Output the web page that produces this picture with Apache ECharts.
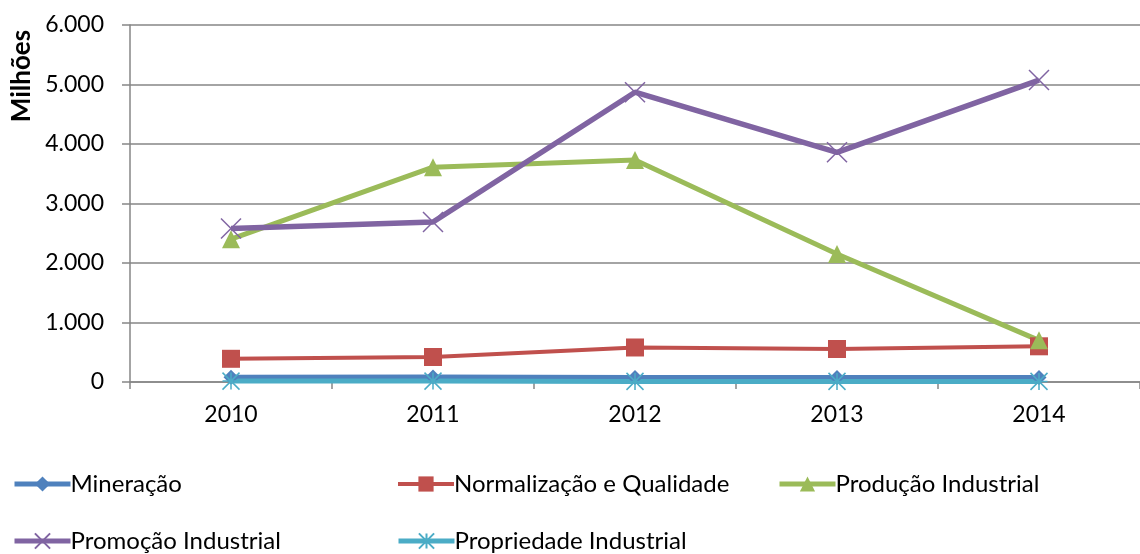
<!DOCTYPE html>
<html>
<head>
<meta charset="utf-8">
<script src="https://cdn.jsdelivr.net/npm/echarts@6/dist/echarts.min.js"></script>
<style>
  html, body { margin: 0; padding: 0; background: #fff; }
  #chart { width: 1140px; height: 554px; }
</style>
</head>
<body>
<div id="chart"></div>
<script>
var years = ["2010", "2011", "2012", "2013", "2014"];
var mineracao = [80, 85, 75, 75, 75];
var normalizacao = [390, 420, 580, 555, 600];
var producao = [2400, 3610, 3730, 2150, 700];
var promocao = [2580, 2690, 4870, 3860, 5075];
var propriedade = [15, 15, 10, 10, 10];

var FONT = "Lato";
var GRID = "#868686";

var crossPath = "path://M0,0L10,10M10,0L0,10";
var starPath = "path://M5,0L5,10M0,0L10,10M10,0L0,10M0,5L10,5";

function fmt(v) {
  return String(v).replace(/\B(?=(\d{3})+(?!\d))/g, ".");
}

function line(name, data, color, symbol, size, width, stroke) {
  return {
    name: name,
    type: "line",
    data: data,
    symbol: symbol,
    symbolSize: size,
    showAllSymbol: true,
    lineStyle: { color: color, width: width },
    itemStyle: {
      color: color,
      borderColor: color,
      borderWidth: stroke || 0
    },
    emphasis: { disabled: true },
    z: 2
  };
}

function legend(name, left, top, w) {
  return {
    data: [name],
    left: left,
    top: top,
    padding: 0,
    itemWidth: 56,
    itemHeight: 19,
    itemGap: 0,
    selectedMode: false,
    lineStyle: { width: w },
    textStyle: { fontFamily: FONT, fontSize: 24, color: "#000", padding: [0, 0, 0, -5] }
  };
}

var chart = echarts.init(document.getElementById("chart"));
chart.setOption({
  animation: false,
  backgroundColor: "#fff",
  grid: { left: 130, top: 25, width: 1020, height: 357 },
  graphic: [{
    type: "text",
    x: 22,
    y: 76,
    rotation: Math.PI / 2,
    style: {
      text: "Milhões",
      fontFamily: FONT,
      fontWeight: "bold",
      fontSize: 26,
      fill: "#000",
      align: "center",
      verticalAlign: "middle"
    }
  }],
  legend: [
    legend("Mineração", 12, 472, 5),
    legend("Normalização e Qualidade", 396, 472, 4),
    legend("Produção Industrial", 777, 472, 5),
    legend("Promoção Industrial", 12, 529, 5),
    legend("Propriedade Industrial", 396, 529, 5)
  ],
  xAxis: {
    type: "category",
    data: years,
    boundaryGap: true,
    axisLine: { show: true, lineStyle: { color: GRID, width: 1.5 } },
    axisTick: { show: true, length: 7, lineStyle: { color: GRID, width: 1.5 } },
    axisLabel: { fontFamily: FONT, fontSize: 23, color: "#000", margin: 21 },
    splitLine: { show: false }
  },
  yAxis: {
    type: "value",
    min: 0,
    max: 6000,
    interval: 1000,
    axisLine: { show: true, lineStyle: { color: GRID, width: 1.5 } },
    axisTick: { show: true, length: 8, lineStyle: { color: GRID, width: 1.5 } },
    axisLabel: { fontFamily: FONT, fontSize: 23, color: "#000", margin: 26, formatter: fmt },
    splitLine: { show: true, lineStyle: { color: GRID, width: 1.5 } }
  },
  series: [
    line("Mineração", mineracao, "#4F81BD", "diamond", 15, 5),
    line("Normalização e Qualidade", normalizacao, "#C0504D", "rect", 18, 4),
    line("Produção Industrial", producao, "#9BBB59", "triangle", 18, 5),
    line("Promoção Industrial", promocao, "#8064A2", crossPath, 20, 5.5, 1.5),
    line("Propriedade Industrial", propriedade, "#4BACC6", starPath, 17, 5, 1.5)
  ]
});
</script>
</body>
</html>
